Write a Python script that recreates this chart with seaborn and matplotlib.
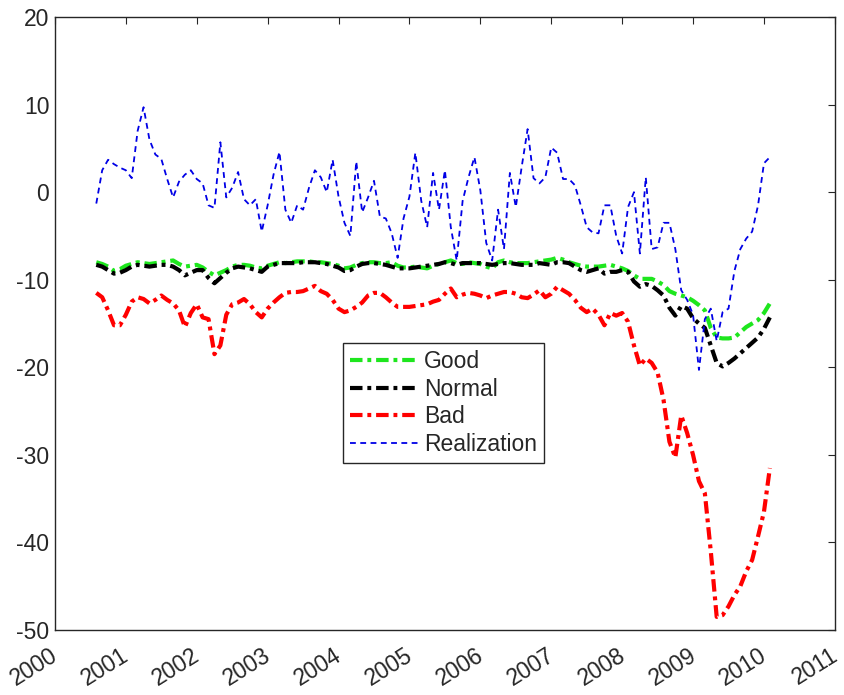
import numpy as np
import pandas as pd
import matplotlib
matplotlib.use("Agg")
import matplotlib.pyplot as plt
import matplotlib.transforms as mtransforms
import seaborn as sns

# ---- data (monthly, Aug 2000 .. Feb 2010) ----
start_year = 2000 + 7 / 12.0

good = [-8.0, -8.2, -8.5, -9.0, -8.8, -8.4, -8.2, -8.0, -8.1, -8.2, -8.1, -8.0, -7.9, -7.8, -8.2, -8.5, -8.4, -8.3, -8.6, -9.1, -9.5, -9.2, -8.9, -8.5, -8.3,
        -8.3, -8.4, -8.6, -8.7, -8.4, -8.2, -8.0, -8.1, -8.0, -7.9, -7.9, -7.9, -8.0, -8.0, -8.1, -8.2, -8.4, -8.7, -8.6, -8.3, -8.1, -8.0, -8.0, -8.1,
        -8.1, -8.0, -8.4, -8.6, -8.6, -8.5, -8.6, -8.7, -8.4, -8.2, -8.0, -7.8, -8.1, -8.2, -8.0, -8.1, -8.2, -8.5, -8.7, -8.0, -7.8, -8.0, -8.1, -8.1,
        -8.1, -8.0, -7.9, -7.8, -7.7, -7.5, -7.7, -8.0, -8.2, -8.4, -8.5, -8.5, -8.5, -8.4, -8.3, -8.5, -8.7, -9.0, -9.5, -9.9, -9.9, -9.9, -10.2, -10.6,
        -11.3, -11.6, -11.8, -12.0, -12.4, -12.9, -13.5, -15.5, -16.6, -16.7, -16.7, -16.6, -16.0, -15.4, -15.0, -14.6, -13.8, -12.7]

normal = [-8.3, -8.5, -8.9, -9.3, -9.2, -8.9, -8.5, -8.3, -8.4, -8.5, -8.4, -8.3, -8.3, -8.5, -8.9, -9.5, -9.2, -8.9, -8.9, -9.8, -10.4, -9.8, -9.2, -8.7, -8.5,
          -8.6, -8.7, -8.9, -9.1, -8.5, -8.3, -8.1, -8.1, -8.1, -8.1, -8.0, -8.0, -8.0, -8.1, -8.2, -8.4, -8.6, -9.0, -8.9, -8.5, -8.2, -8.1, -8.1, -8.2,
          -8.3, -8.5, -8.7, -8.7, -8.7, -8.6, -8.5, -8.4, -8.3, -8.2, -8.0, -8.1, -8.3, -8.1, -8.1, -8.1, -8.1, -8.2, -8.3, -8.2, -8.1, -8.1, -8.2, -8.3,
          -8.3, -8.3, -8.1, -8.2, -8.3, -8.0, -8.0, -8.1, -8.5, -8.9, -9.1, -8.9, -8.7, -9.3, -9.1, -9.1, -8.9, -9.1, -10.2, -10.8, -10.5, -10.7, -11.2, -11.8,
          -13.2, -14.1, -13.0, -13.3, -14.4, -15.0, -15.5, -17.5, -19.5, -19.9, -19.5, -19.0, -18.4, -17.8, -17.2, -16.6, -15.6, -14.3]

bad = [-11.5, -12.0, -13.5, -15.2, -15.2, -14.0, -12.5, -12.0, -12.2, -12.7, -12.3, -11.8, -12.3, -12.7, -13.5, -15.4, -13.8, -12.8, -14.3, -14.5, -18.5, -17.5, -14.0, -12.8, -12.6,
       -12.2, -12.8, -13.7, -14.3, -13.3, -12.6, -12.0, -11.5, -11.4, -11.4, -11.3, -11.0, -10.7, -11.3, -11.6, -12.3, -13.3, -13.7, -13.5, -13.1, -12.6, -11.8, -11.5, -11.5,
       -12.0, -12.6, -13.1, -13.1, -13.1, -13.0, -12.9, -12.8, -12.5, -12.3, -11.6, -11.0, -12.0, -11.7, -11.5, -11.6, -11.8, -12.1, -11.8, -11.6, -11.4, -11.4, -11.6, -12.0,
       -12.1, -11.7, -11.2, -12.0, -11.6, -10.8, -11.2, -11.6, -12.3, -13.2, -13.7, -13.3, -14.0, -15.2, -13.8, -14.1, -13.8, -14.8, -17.5, -19.8, -19.0, -19.5, -20.6, -23.7,
       -28.5, -30.3, -25.5, -27.5, -30.0, -33.0, -34.4, -41.0, -48.5, -48.3, -47.3, -46.0, -45.0, -43.3, -42.0, -39.3, -36.5, -31.5]

realization = [-1.3, 2.5, 3.7, 3.2, 2.8, 2.5, 1.6, 7.0, 9.7, 6.0, 4.3, 3.8, 1.5, -0.6, 1.2, 2.0, 2.5, 1.5, 1.0, -1.5, -1.8, 5.7, -0.6, 0.5, 2.3,
               -0.8, -1.5, -0.8, -4.5, -1.5, 2.0, 4.6, -2.0, -3.5, -1.5, -2.0, 0.5, 2.5, 1.7, 0.0, 3.7, -0.5, -3.5, -5.0, 3.5, -2.3, -0.6, 1.3, -2.8,
               -3.0, -4.7, -7.5, -3.0, -0.5, 4.5, -1.0, -4.0, 2.2, -2.0, 2.5, -4.0, -7.8, -1.0, 1.7, 4.0, 0.2, -5.8, -7.8, -2.0, -6.5, 2.2, -1.7, 2.9,
               7.2, 1.6, 1.0, 1.7, 5.1, 4.5, 1.5, 1.5, 0.8, -1.5, -4.0, -4.6, -4.7, -1.5, -1.5, -5.0, -7.0, -1.7, 0.0, -7.0, 1.7, -6.5, -6.3, -3.5,
               -3.5, -6.5, -11.2, -12.3, -14.0, -20.3, -14.5, -13.3, -17.0, -13.7, -13.3, -9.0, -6.5, -5.3, -4.5, -1.5, 3.3, 4.0]

series_names = ["Good", "Normal", "Bad", "Realization"]
x_ticks = list(range(2000, 2012))
y_ticks = list(range(-50, 21, 10))

n = len(realization)
t = start_year + np.arange(n) / 12.0
df = pd.concat([
    pd.DataFrame({"t": t, "v": vals, "s": name})
    for name, vals in zip(series_names, [good, normal, bad, realization])
], ignore_index=True)

# ---- style ----
sns.set_style("white")
plt.rcParams["font.family"] = ["Liberation Sans", "DejaVu Sans"]
plt.rcParams["lines.scale_dashes"] = False

palette = {"Good": "#1ee61e", "Normal": "#000000", "Bad": "#ff0000", "Realization": "#0000e6"}
sizes = {"Good": 3.0, "Normal": 3.0, "Bad": 3.0, "Realization": 1.3}
dash_dot = (9, 3.5, 2.8, 3.5)
dashes = {"Good": dash_dot, "Normal": dash_dot, "Bad": dash_dot, "Realization": (4.2, 3.2)}

fig = plt.figure(figsize=(8.45, 6.95), dpi=100)
ax = fig.add_axes([0.065, 0.0935, 0.923, 0.882])

sns.lineplot(data=df, x="t", y="v", hue="s", style="s", size="s",
             hue_order=series_names, style_order=series_names, size_order=series_names,
             palette=palette, sizes=sizes, dashes=dashes, legend=False, ax=ax,
             estimator=None, sort=False)

ax.set_xlim(2000, 2011)
ax.set_ylim(-50, 20)
ax.set_xticks(x_ticks)
ax.set_yticks(y_ticks)
ax.set_xticklabels([str(v) for v in x_ticks], rotation=32, ha="right", va="top",
                   rotation_mode="anchor")
ax.set_yticklabels([str(v) for v in y_ticks])
ax.set_xlabel("")
ax.set_ylabel("")

axc = "#262626"
for sp in ax.spines.values():
    sp.set_visible(True)
    sp.set_color(axc)
    sp.set_linewidth(1.0)
ax.tick_params(axis="both", which="major", direction="in", length=5, width=0.8,
               colors=axc, labelsize=16.5, top=True, right=True, labelcolor=axc)
ax.tick_params(axis="x", pad=10)
ax.tick_params(axis="y", pad=4)

# shift rotated x labels slightly left so the last one stays inside the figure
offset = mtransforms.ScaledTranslation(-5 / 100, 0, fig.dpi_scale_trans)
for lab in ax.get_xticklabels():
    lab.set_transform(lab.get_transform() + offset)

handles = ax.get_lines()[:4]
leg = ax.legend(handles, series_names, loc="upper left", bbox_to_anchor=(0.369, 0.468),
                fontsize=16.5, frameon=True, fancybox=False, framealpha=1,
                edgecolor=axc, handlelength=3.0, handletextpad=0.25,
                labelspacing=0.2, borderpad=0.3, borderaxespad=0)
leg.get_frame().set_linewidth(1.0)

fig.savefig("out.png", dpi=100)
